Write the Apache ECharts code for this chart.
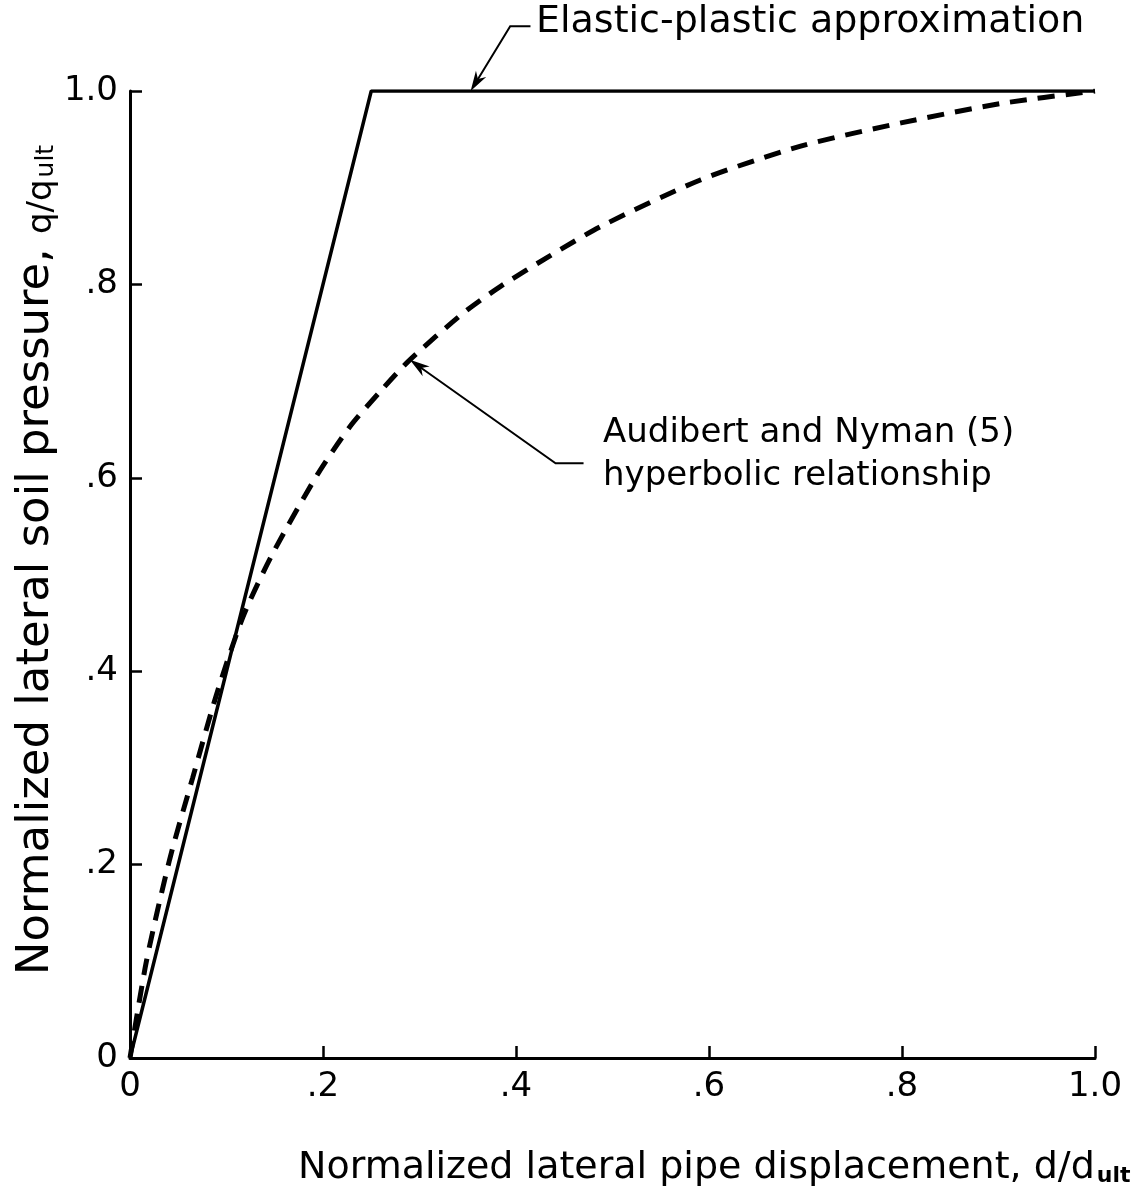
<!DOCTYPE html>
<html>
<head>
<meta charset="utf-8">
<script src="https://cdn.jsdelivr.net/npm/echarts@6/dist/echarts.min.js"></script>
<style>html,body{margin:0;padding:0;background:#fff;}#c{width:1145px;height:1203px;}</style>
</head>
<body>
<div id="c"></div>
<script>
// ---- data ----
var xTickLabels = ['0', '.2', '.4', '.6', '.8', '1.0'];
var yTickLabels = ['0', '.2', '.4', '.6', '.8', '1.0'];
var elasticX = [0, 0.25, 1.0];
var elasticY = [0, 1.0, 1.0];
var hyperX = [0, 0.017, 0.041, 0.065, 0.09, 0.117, 0.147, 0.194, 0.228, 0.26, 0.29, 0.345, 0.384, 0.436, 0.488, 0.591, 0.695, 0.799, 0.902, 1.0];
var hyperY = [0, 0.10, 0.205, 0.29, 0.377, 0.456, 0.520, 0.603, 0.653, 0.690, 0.722, 0.770, 0.798, 0.830, 0.860, 0.908, 0.943, 0.967, 0.987, 1.0];
// annotation leader anchors (data units): text end, elbow, arrow tip
var elasticLeader = [[0.415, 1.067], [0.394, 1.067], [0.353, 1.0]];
var hyperLeader = [[0.470, 0.615], [0.441, 0.615], [0.29, 0.722]];

var FONT = 'DejaVu Sans';
function zip(a, b) { return a.map(function (v, i) { return [v, b[i]]; }); }

var chart = echarts.init(document.getElementById('c'));
var axisCommon = {
  type: 'value', min: 0, max: 1, interval: 0.2,
  axisLine: { show: true, lineStyle: { color: '#000', width: 3 } },
  axisTick: { show: true, inside: true, length: 12, lineStyle: { color: '#000', width: 2.5 } },
  splitLine: { show: false }
};
chart.setOption({
  animation: false,
  backgroundColor: '#fff',
  grid: { left: 130, right: 50, top: 91, bottom: 145 },
  xAxis: Object.assign({}, axisCommon, {
    axisLabel: {
      margin: 12, color: '#000', fontFamily: FONT, fontSize: 34,
      formatter: function (v) { return xTickLabels[Math.round(v / 0.2)]; }
    }
  }),
  yAxis: Object.assign({}, axisCommon, {
    axisLabel: {
      margin: 12, color: '#000', fontFamily: FONT, fontSize: 34,
      formatter: function (v) { return yTickLabels[Math.round(v / 0.2)]; }
    }
  }),
  series: [
    {
      type: 'line', data: zip(elasticX, elasticY), symbol: 'none',
      lineStyle: { color: '#000', width: 3.5 }
    },
    {
      type: 'line', data: zip(hyperX, hyperY), symbol: 'none', smooth: 0.25,
      lineStyle: { color: '#000', width: 5, type: [17, 11] }
    }
  ]
});

function leaderGraphics(p, id) {
  var pts = p.map(function (d) { return chart.convertToPixel({ gridIndex: 0 }, d); });
  var tip = pts[2], el = pts[1];
  var dx = tip[0] - el[0], dy = tip[1] - el[1];
  var len = Math.sqrt(dx * dx + dy * dy);
  var ux = dx / len, uy = dy / len;
  var L = 20, W = 6;
  var bx = tip[0] - ux * L, by = tip[1] - uy * L;
  var arrow = [[tip[0], tip[1]], [bx - uy * W, by + ux * W], [tip[0] - ux * L * 0.7, tip[1] - uy * L * 0.7], [bx + uy * W, by - ux * W]];
  return [
    { type: 'polyline', id: id + 'l', shape: { points: [pts[0], pts[1], [tip[0] - ux * 8, tip[1] - uy * 8]] }, style: { stroke: '#000', lineWidth: 2, fill: null } },
    { type: 'polygon', id: id + 'a', shape: { points: arrow }, style: { fill: '#000' } }
  ];
}

var g = [].concat(leaderGraphics(elasticLeader, 'e'), leaderGraphics(hyperLeader, 'h'));
g.push(
  { type: 'text', id: 't1', left: 536, top: 3, style: { text: 'Elastic-plastic approximation', fill: '#000', font: '38px "' + FONT + '"' } },
  { type: 'text', id: 't2', left: 603, top: 416, style: { text: 'Audibert and Nyman (5)', fill: '#000', font: '34px "' + FONT + '"' } },
  { type: 'text', id: 't3', left: 603, top: 459, style: { text: 'hyperbolic relationship', fill: '#000', font: '34px "' + FONT + '"' } },
  {
    type: 'text', id: 't4', x: 298, y: 1143,
    style: {
      text: '{a|Normalized lateral pipe displacement, d/d}{s|ult}',
      fill: '#000',
      rich: {
        a: { fontFamily: FONT, fontSize: 38, lineHeight: 44, verticalAlign: 'bottom', fill: '#000' },
        s: { fontFamily: FONT, fontSize: 22, fontWeight: 'bold', lineHeight: 16, verticalAlign: 'bottom', padding: [0, 0, 0, 2], fill: '#000' }
      }
    }
  },
  {
    type: 'text', id: 't5', x: 33, y: 560, rotation: Math.PI / 2,
    style: {
      text: '{a|Normalized lateral soil pressure, }{b|q/q}{s|ult}',
      fill: '#000', align: 'center', verticalAlign: 'middle',
      rich: {
        a: { fontFamily: FONT, fontSize: 45, lineHeight: 52, verticalAlign: 'bottom', fill: '#000' },
        b: { fontFamily: FONT, fontSize: 34, lineHeight: 48, verticalAlign: 'bottom', fill: '#000' },
        s: { fontFamily: FONT, fontSize: 25, lineHeight: 20, verticalAlign: 'bottom', padding: [0, 0, 0, 2], fill: '#000' }
      }
    }
  }
);
chart.setOption({ graphic: g });
</script>
</body>
</html>
